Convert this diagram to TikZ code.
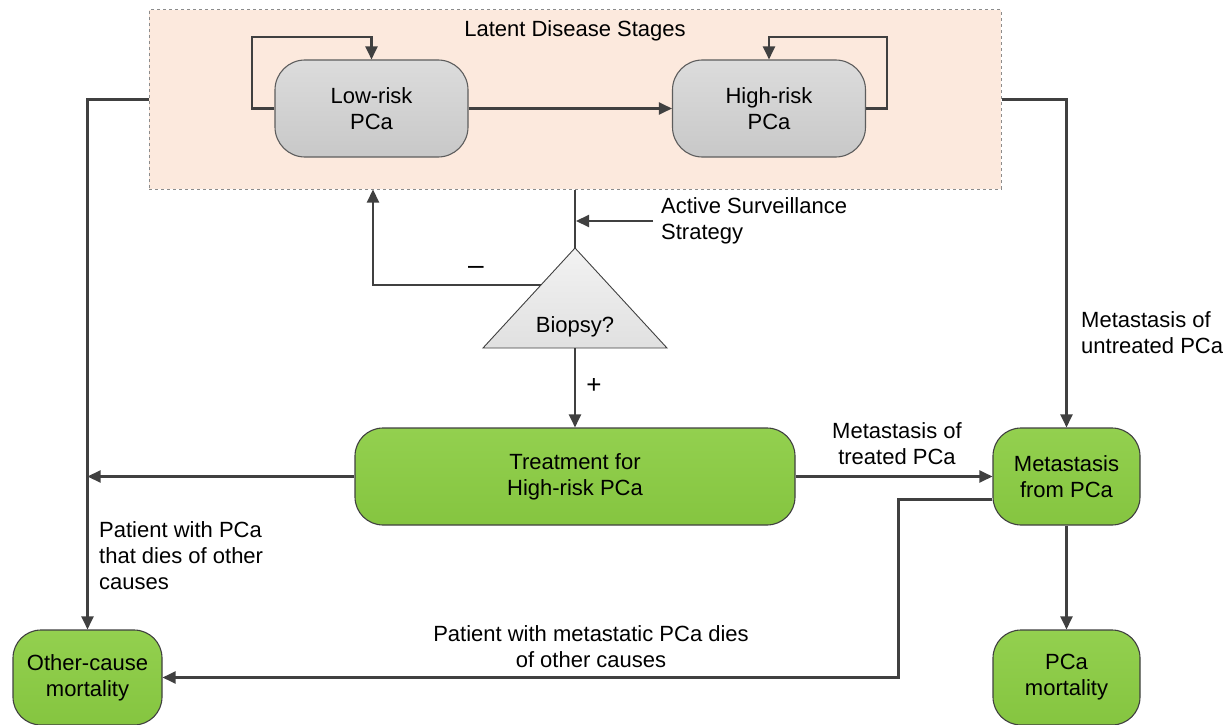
\documentclass[tikz,border=0pt]{standalone}
\usepackage{fontspec}
\setmainfont{Liberation Sans}
\usetikzlibrary{arrows.meta,calc}
\definecolor{linec}{HTML}{404040}
\definecolor{peach}{HTML}{FCE9DD}
\definecolor{boxgray}{HTML}{8C8C8C}
\definecolor{graytop}{HTML}{DCDCDC}
\definecolor{graybot}{HTML}{C8C8C8}
\definecolor{greentop}{HTML}{93D04F}
\definecolor{greenbot}{HTML}{85C540}
\tikzset{
  conn/.style={draw=linec, line width=2.1pt},
  arr/.style={conn, -{Triangle[length=13pt,width=12pt]}},
  graybox/.style={draw=linec!85, line width=1.1pt, rounded corners=30pt, top color=graytop, bottom color=graybot, minimum width=193pt, minimum height=97pt, align=center, inner sep=0pt},
  greenbox/.style={draw=linec, line width=1.1pt, rounded corners=28pt, top color=greentop, bottom color=greenbot, minimum height=97pt, align=center, inner sep=0pt},
  lbl/.style={inner sep=0pt, align=center},
  lbll/.style={inner sep=0pt, align=left, anchor=west}
}
\begin{document}
\begin{tikzpicture}[x=1pt, y=-1pt, font=\fontsize{22}{26}\selectfont]
\useasboundingbox (0,0) rectangle (1224,725);
% latent box
\node[draw=boxgray, dashed, line width=1pt, fill=peach, minimum width=852pt, minimum height=179pt, inner sep=0pt] (latent) at (575,99.5) {};
\node[lbl] (title) at (575,31) {Latent Disease Stages};
\node[graybox] (low) at (371.5,108.5) {Low-risk\\PCa};
\node[graybox] (high) at (769,108.5) {High-risk\\PCa};
% self loops
\draw[arr] (low.west) -- (252,108.5) -- (252,37) -| (low.north);
\draw[arr] (high.east) -- (887,108.5) -- (887,37) -| (high.north);
\draw[arr] (low.east) -- (high.west);
% triangle
\coordinate (apex) at (575,248);
\coordinate (bl) at (483,348);
\coordinate (br) at (667,348);
\coordinate (base) at (575,348);
\draw[draw=linec, line width=0.9pt, top color=white!95!black, bottom color=white!88!black] (apex) -- (bl) -- (br) -- cycle;
\node[lbl] (biopsy) at (575,327) {Biopsy?};
% green nodes
\node[greenbox, minimum width=440pt] (treat) at (575,476.5) {Treatment for\\High-risk PCa};
\node[greenbox, minimum width=147pt] (meta) at (1066.5,476.5) {Metastasis\\from PCa};
\node[greenbox, minimum width=149pt, minimum height=95pt] (other) at (87.5,677.5) {Other-cause\\mortality};
\node[greenbox, minimum width=147pt, minimum height=95pt] (pcam) at (1066.5,677.5) {PCa\\mortality};
% text labels
\node[lbll] (as) at (661,221) {Active Surveillance\\Strategy};
\node[lbll] (untr) at (1081,333) {Metastasis of\\untreated PCa};
\node[lbl] (tr) at (897,444) {Metastasis of\\treated PCa};
\node[lbll] (pdies) at (99,556) {Patient with PCa\\that dies of other\\causes};
\node[lbl] (mdies) at (591,647) {Patient with metastatic PCa dies\\of other causes};
\node[lbl, font=\fontsize{28}{28}\selectfont] (minus) at (476,270) {–};
\node[lbl, font=\fontsize{26}{26}\selectfont] (plus) at (594,386) {+};
% connectors
\draw[arr] (latent.west) -| (other.north);
\draw[arr] (latent.east) -| (meta.north);
\draw[conn] (latent.south -| apex) -- (apex);
\draw[arr, shorten >=1pt] ([xshift=-8pt]as.west) -- (as.west -| apex);
\coordinate (mstart) at (541,285);
\coordinate (mcorner) at (373,285);
\draw[arr] (mstart) -- (mcorner) -- (mcorner |- latent.south);
\draw[arr] (base) -- (treat.north);
\draw[arr] (treat.west) -- (treat.west -| other.north);
\draw[arr] (treat.east) -- (treat.east -| meta.west);
\draw[arr] (meta.south) -- (pcam.north);
\draw[arr] ($(meta.west)+(0,23)$) -- ++(-94,0) |- (other.east);
\end{tikzpicture}
\end{document}
